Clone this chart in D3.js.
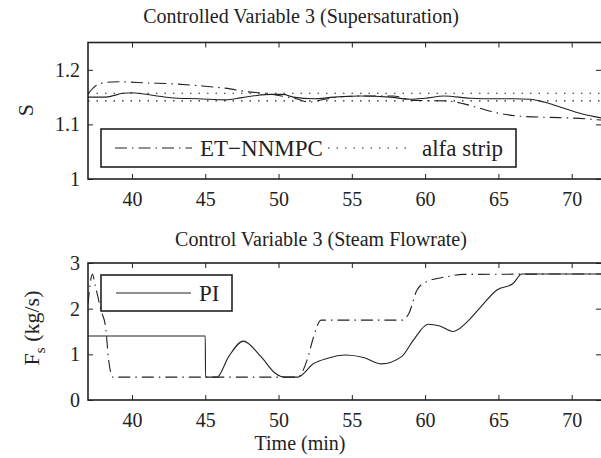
<!DOCTYPE html>
<html>
<head>
<meta charset="utf-8">
<script src="https://cdn.jsdelivr.net/npm/d3@7"></script>
<style>
body { margin: 0; background: #fff; }
text { font-family: "Liberation Serif", "Times New Roman", serif; fill: #222; }
</style>
</head>
<body>
<div id="chart"></div>
<script>
// tick values and labels
var timeTicks = [40, 45, 50, 55, 60, 65, 70];
var sTicks = [1, 1.1, 1.2],
  sTickLabels = ["1", "1.1", "1.2"];
var fTicks = [0, 1, 2, 3],
  fTickLabels = ["0", "1", "2", "3"];

// supersaturation, PI (solid)
var tPIS = [37, 38.2, 39.4, 40.0, 41.5, 43.1, 44.5, 46.4, 47.5, 48.5, 49.5, 50.3, 51.0, 52.4, 53.8, 55.6, 57.6, 59.0, 60.0, 61.3, 63.1, 64.9, 66.0, 67.2, 68.1, 69.2, 70.6, 72];
var sPI = [1.150, 1.150, 1.157, 1.158, 1.153, 1.148, 1.147, 1.145, 1.149, 1.153, 1.155, 1.155, 1.150, 1.147, 1.150, 1.152, 1.150, 1.146, 1.148, 1.152, 1.148, 1.147, 1.147, 1.146, 1.141, 1.132, 1.120, 1.112];

// supersaturation, ET-NNMPC (dash-dot)
var tETS = [37, 37.5, 38.2, 39, 41, 43, 44.5, 46.7, 47.8, 49.1, 50, 51.2, 52.1, 53, 54.1, 55.7, 57.8, 59.2, 61.5, 62.6, 63.8, 65.1, 66.5, 68.3, 70.5, 72];
var sET = [1.156, 1.170, 1.177, 1.178, 1.176, 1.174, 1.171, 1.165, 1.160, 1.157, 1.153, 1.147, 1.141, 1.145, 1.150, 1.152, 1.152, 1.144, 1.143, 1.138, 1.129, 1.120, 1.115, 1.113, 1.111, 1.108];

// alfa strip limits
var stripLevels = [1.157, 1.143];

// steam flowrate, PI (solid)
var tPIF = [37, 45, 45.02, 45.8, 46.6, 47.6, 48.8, 49.8, 50.4, 51.3, 52.4, 53.3, 54.6, 55.8, 57.0, 58.4, 59.2, 60.2, 61.0, 61.9, 62.9, 63.8, 64.9, 66.0, 66.6, 72];
var fPI = [1.4, 1.4, 0.5, 0.5, 0.95, 1.29, 0.95, 0.58, 0.5, 0.5, 0.8, 0.91, 0.985, 0.93, 0.79, 0.95, 1.31, 1.66, 1.62, 1.50, 1.72, 2.04, 2.41, 2.55, 2.76, 2.76];

// steam flowrate, ET-NNMPC (dash-dot)
var tETF = [37, 37.3, 37.5, 37.9, 38.2, 38.4, 38.7, 51.3, 51.95, 52.4, 52.9, 58.4, 58.9, 59.45, 60.1, 61.5, 62.6, 72];
var fET = [2.1, 2.75, 2.5, 1.95, 1.6, 0.9, 0.5, 0.5, 0.88, 1.39, 1.75, 1.75, 1.9, 2.41, 2.59, 2.70, 2.75, 2.76];

var svg_dx = 601,
  svg_dy = 458,
  ink = "#222",
  dashDot = "12,5,1.5,5",
  dotted = "1.5,7";

var svg = d3.select("#chart")
  .append("svg")
  .attr("width", svg_dx)
  .attr("height", svg_dy);

var x = d3.scaleLinear().domain([37, 72]).range([88, 601]);
var yS = d3.scaleLinear().domain([1, 1.25]).range([179, 42.5]);
var yF = d3.scaleLinear().domain([0, 3]).range([400, 263]);

// draws frame, inward ticks and tick labels for one panel
function panel(id, y, yTicks, yLabels) {
  var g = svg.append("g").attr("id", id);
  var y0 = y.range()[0], y1 = y.range()[1];

  g.append("clipPath").attr("id", id + "-clip")
    .append("rect")
    .attr("x", x.range()[0]).attr("y", y1)
    .attr("width", x.range()[1] - x.range()[0])
    .attr("height", y0 - y1);

  var xb = g.append("g")
    .attr("transform", "translate(0," + y0 + ")")
    .call(d3.axisBottom(x).tickValues(timeTicks).tickSize(-5).tickSizeOuter(0).tickPadding(13));
  var xt = g.append("g")
    .attr("transform", "translate(0," + y1 + ")")
    .call(d3.axisTop(x).tickValues(timeTicks).tickSize(-5).tickSizeOuter(0).tickFormat(""));
  var yl = g.append("g")
    .attr("transform", "translate(" + x.range()[0] + ",0)")
    .call(d3.axisLeft(y).tickValues(yTicks).tickSize(-5).tickSizeOuter(0).tickPadding(8)
      .tickFormat(function(d, i) { return yLabels[i]; }));
  var yr = g.append("g")
    .attr("transform", "translate(" + x.range()[1] + ",0)")
    .call(d3.axisRight(y).tickValues(yTicks).tickSize(-5).tickSizeOuter(0).tickFormat(""));

  [xb, xt, yl, yr].forEach(function(a) {
    a.select(".domain").remove();
    a.selectAll("line").attr("stroke", ink).attr("stroke-width", 1);
    a.selectAll("text").attr("font-size", 20).attr("font-family", null).attr("fill", ink);
  });

  var plot = g.append("g").attr("clip-path", "url(#" + id + "-clip)");

  g.append("rect")
    .attr("x", x.range()[0]).attr("y", y1)
    .attr("width", x.range()[1] - x.range()[0] + 2)
    .attr("height", y0 - y1)
    .attr("fill", "none")
    .attr("stroke", ink)
    .attr("stroke-width", 1.6);

  return plot;
}

function drawLine(g, y, ts, vs, dash) {
  var line = d3.line()
    .x(function(d) { return x(d[0]); })
    .y(function(d) { return y(d[1]); })
    .curve(d3.curveMonotoneX);
  g.append("path")
    .datum(d3.zip(ts, vs))
    .attr("d", line)
    .attr("fill", "none")
    .attr("stroke", ink)
    .attr("stroke-width", 1.1)
    .attr("stroke-dasharray", dash);
}

// top panel: supersaturation
var topPlot = panel("top", yS, sTicks, sTickLabels);
stripLevels.forEach(function(lv) {
  drawLine(topPlot, yS, x.domain(), [lv, lv], dotted);
});
drawLine(topPlot, yS, tPIS, sPI, null);
drawLine(topPlot, yS, tETS, sET, dashDot);

// bottom panel: steam flowrate
var botPlot = panel("bot", yF, fTicks, fTickLabels);
drawLine(botPlot, yF, tETF, fET, dashDot);
drawLine(botPlot, yF, tPIF, fPI, null);

// titles and axis labels
svg.append("text").attr("x", 301).attr("y", 23)
  .attr("text-anchor", "middle").attr("font-size", 20)
  .text("Controlled Variable 3 (Supersaturation)");
svg.append("text").attr("x", 321).attr("y", 246)
  .attr("text-anchor", "middle").attr("font-size", 20)
  .text("Control Variable 3 (Steam Flowrate)");
svg.append("text").attr("x", 300).attr("y", 450)
  .attr("text-anchor", "middle").attr("font-size", 20)
  .text("Time (min)");
svg.append("text")
  .attr("transform", "translate(33,110) rotate(-90)")
  .attr("text-anchor", "middle").attr("font-size", 22)
  .text("S");
var fl = svg.append("text")
  .attr("transform", "translate(38.5,328) rotate(-90)")
  .attr("text-anchor", "middle").attr("font-size", 22);
fl.append("tspan").text("F");
fl.append("tspan").attr("font-size", 15).attr("dy", 6).text("s");
fl.append("tspan").attr("dy", -6).text(" (kg/s)");

// legends
var leg1 = svg.append("g");
leg1.append("rect")
  .attr("x", 101).attr("y", 129).attr("width", 415).attr("height", 38)
  .attr("fill", "#fff").attr("stroke", ink).attr("stroke-width", 1.6);
leg1.append("line").attr("x1", 115).attr("x2", 192).attr("y1", 148).attr("y2", 148)
  .attr("stroke", ink).attr("stroke-width", 1.1).attr("stroke-dasharray", dashDot);
leg1.append("text").attr("x", 200).attr("y", 156).attr("font-size", 23).text("ET\u2212NNMPC");
leg1.append("line").attr("x1", 328).attr("x2", 411).attr("y1", 148).attr("y2", 148)
  .attr("stroke", ink).attr("stroke-width", 1.1).attr("stroke-dasharray", dotted);
leg1.append("text").attr("x", 422).attr("y", 156).attr("font-size", 23).text("alfa strip");

var leg2 = svg.append("g");
leg2.append("rect")
  .attr("x", 101).attr("y", 275).attr("width", 131).attr("height", 36)
  .attr("fill", "#fff").attr("stroke", ink).attr("stroke-width", 1.6);
leg2.append("line").attr("x1", 116).attr("x2", 191).attr("y1", 293).attr("y2", 293)
  .attr("stroke", ink).attr("stroke-width", 1.1);
leg2.append("text").attr("x", 199).attr("y", 301).attr("font-size", 23).text("PI");
</script>
</body>
</html>
